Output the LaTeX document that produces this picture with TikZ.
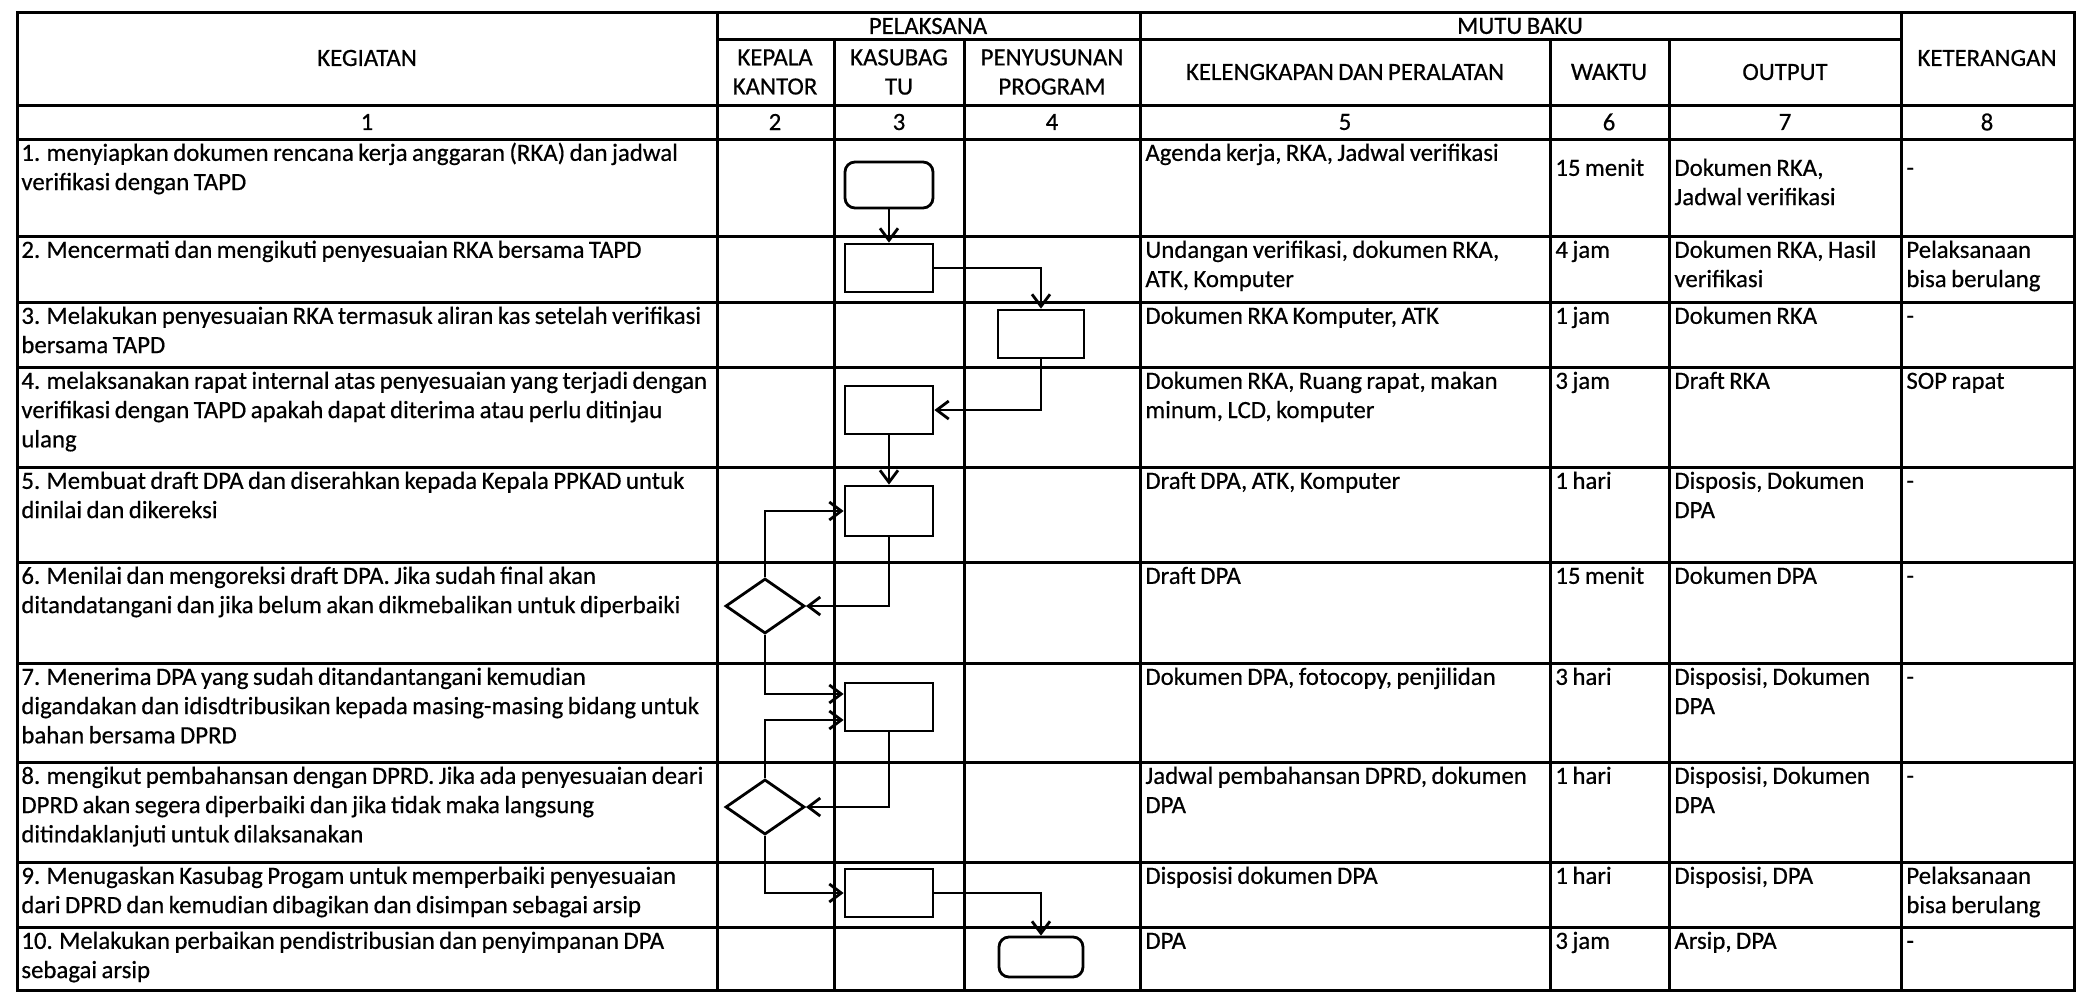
\documentclass[tikz,border=0pt]{standalone}
\usepackage{fontspec}
\setmainfont{Carlito}[FakeBold=0.5]
\usetikzlibrary{arrows.meta,shapes.geometric}
\newcommand\isifont{\fontsize{12.4}{14.6}\selectfont\spaceskip=0.18em plus 0.06em minus 0.03em\relax}
\tikzset{
  garis/.style={line width=1.5pt},
  proses/.style={draw, line width=1.4pt, rectangle, minimum width=44pt, minimum height=24pt, inner sep=0pt},
  terminal/.style={proses, rounded corners=5pt},
  keputusan/.style={draw, line width=1.4pt, diamond, minimum width=39.5pt, minimum height=27.5pt, inner sep=0pt},
  panah/.style={line width=1.4pt, -{Straight Barb[length=6pt,width=9pt]}},
  isi/.style={anchor=north west, align=left, inner sep=0pt, font=\isifont},
  judul/.style={align=center, inner sep=0pt, font=\isifont},
}
\begin{document}
\begin{tikzpicture}[x=0.5pt, y=-0.5pt]
    \useasboundingbox (0,0) rectangle (2077,992);

    % Garis tabel
    \draw[garis] (17,12) rectangle (2074,990);
    \draw[garis] (717,39) -- (1901,39);
    \foreach \y in {105,139,236,302,367,467,562,663,762,862,927}
        \draw[garis] (17,\y) -- (2074,\y);
    \foreach \x in {717,1140,1901}
        \draw[garis] (\x,12) -- (\x,990);
    \foreach \x in {834,964,1550,1669}
        \draw[garis] (\x,39) -- (\x,990);

    % Kepala tabel
    \node[judul] (hkeg) at (367,58) {KEGIATAN};
    \node[judul] (hpel) at (928,26) {PELAKSANA};
    \node[judul] (hkep) at (775,72) {KEPALA\\KANTOR};
    \node[judul] (hkas) at (899,72) {KASUBAG\\TU};
    \node[judul] (hpen) at (1052,72) {PENYUSUNAN\\PROGRAM};
    \node[judul] (hmut) at (1520,26) {MUTU BAKU};
    \node[judul] (hkel) at (1345,72) {KELENGKAPAN DAN PERALATAN};
    \node[judul] (hwak) at (1609,72) {WAKTU};
    \node[judul] (hout) at (1785,72) {OUTPUT};
    \node[judul] (hket) at (1987,58) {KETERANGAN};
    \foreach \n/\x in {1/367,2/775,3/899,4/1052,5/1345,6/1609,7/1785,8/1987}
        \node[judul] (no\n) at (\x,122) {\n};

    % Kolom 1: kegiatan
    \foreach \i/\y/\teks in {
        1/139/{1. menyiapkan dokumen rencana kerja anggaran (RKA) dan jadwal\\verifikasi dengan TAPD},
        2/236/{2. Mencermati dan mengikuti penyesuaian RKA bersama TAPD},
        3/302/{3. Melakukan penyesuaian RKA termasuk aliran kas setelah verifikasi\\bersama TAPD},
        4/367/{4. melaksanakan rapat internal atas penyesuaian yang terjadi dengan\\verifikasi dengan TAPD apakah dapat diterima atau perlu ditinjau\\ulang},
        5/467/{5. Membuat draft DPA dan diserahkan kepada Kepala PPKAD untuk\\dinilai dan dikereksi},
        6/562/{6. Menilai dan mengoreksi draft DPA. Jika sudah final akan\\ditandatangani dan jika belum akan dikmebalikan untuk diperbaiki},
        7/663/{7. Menerima DPA yang sudah ditandantangani kemudian\\digandakan dan idisdtribusikan kepada masing-masing bidang untuk\\bahan bersama DPRD},
        8/762/{8. mengikut pembahansan dengan DPRD. Jika ada penyesuaian deari\\DPRD akan segera diperbaiki dan jika tidak maka langsung\\ditindaklanjuti untuk dilaksanakan},
        9/862/{9. Menugaskan Kasubag Progam untuk memperbaiki penyesuaian\\dari DPRD dan kemudian dibagikan dan disimpan sebagai arsip},
        10/927/{10. Melakukan perbaikan pendistribusian dan penyimpanan DPA\\sebagai arsip}}
        \node[isi] (keg\i) at (21,\y+1) {\strut\teks};

    % Kolom 5: kelengkapan dan peralatan
    \foreach \i/\y/\teks in {
        1/139/{Agenda kerja, RKA, Jadwal verifikasi},
        2/236/{Undangan verifikasi, dokumen RKA,\\ATK, Komputer},
        3/302/{Dokumen RKA Komputer, ATK},
        4/367/{Dokumen RKA, Ruang rapat, makan\\minum, LCD, komputer},
        5/467/{Draft DPA, ATK, Komputer},
        6/562/{Draft DPA},
        7/663/{Dokumen DPA, fotocopy, penjilidan},
        8/762/{Jadwal pembahansan DPRD, dokumen\\DPA},
        9/862/{Disposisi dokumen DPA},
        10/927/{DPA}}
        \node[isi] (kel\i) at (1145,\y+1) {\strut\teks};

    % Kolom 6: waktu
    \foreach \i/\y/\teks in {1/154/15 menit, 2/236/4 jam, 3/302/1 jam, 4/367/3 jam,
        5/467/1 hari, 6/562/15 menit, 7/663/3 hari, 8/762/1 hari, 9/862/1 hari, 10/927/3 jam}
        \node[isi] (wak\i) at (1555,\y+1) {\strut\teks};

    % Kolom 7: output
    \foreach \i/\y/\teks in {
        1/154/{Dokumen RKA,\\Jadwal verifikasi},
        2/236/{Dokumen RKA, Hasil\\verifikasi},
        3/302/{Dokumen RKA},
        4/367/{Draft RKA},
        5/467/{Disposis, Dokumen\\DPA},
        6/562/{Dokumen DPA},
        7/663/{Disposisi, Dokumen\\DPA},
        8/762/{Disposisi, Dokumen\\DPA},
        9/862/{Disposisi, DPA},
        10/927/{Arsip, DPA}}
        \node[isi] (out\i) at (1674,\y+1) {\strut\teks};

    % Kolom 8: keterangan
    \foreach \i/\y/\teks in {
        1/154/{-}, 2/236/{Pelaksanaan\\bisa berulang}, 3/302/{-}, 4/367/{SOP rapat},
        5/467/{-}, 6/562/{-}, 7/663/{-}, 8/762/{-},
        9/862/{Pelaksanaan\\bisa berulang}, 10/927/{-}}
        \node[isi] (ket\i) at (1906,\y+1) {\strut\teks};

    % Bagan alir
    \node[terminal, minimum height=23pt] (r1) at (889,185) {};
    \node[proses] (r2) at (889,268) {};
    \node[proses, minimum width=43pt] (r3) at (1041,334) {};
    \node[proses] (r4) at (889,410) {};
    \node[proses, minimum height=25pt] (r5) at (889,511) {};
    \node[keputusan] (d6) at (765,606) {};
    \node[proses] (r7) at (889,707) {};
    \node[keputusan] (d8) at (765,807) {};
    \node[proses] (r9) at (889,893) {};
    \node[terminal, minimum width=42pt, minimum height=20pt] (r10) at (1041,957) {};
    \coordinate (r7a) at ([yshift=6.5pt]r7.west);
    \coordinate (r7b) at ([yshift=-6.5pt]r7.west);

    \draw[panah] (r1) -- (r2);
    \draw[panah] (r2) -| (r3);
    \draw[panah] (r3) |- (r4);
    \draw[panah] (r4) -- (r5);
    \draw[panah] (d6) |- (r5);
    \draw[panah] (r5) |- (d6);
    \draw[panah] (d6) |- (r7a);
    \draw[panah] (r7) |- (d8);
    \draw[panah] (d8) |- (r7b);
    \draw[panah] (d8) |- (r9);
    \draw[panah] (r9) -| (r10);

\end{tikzpicture}
\end{document}
